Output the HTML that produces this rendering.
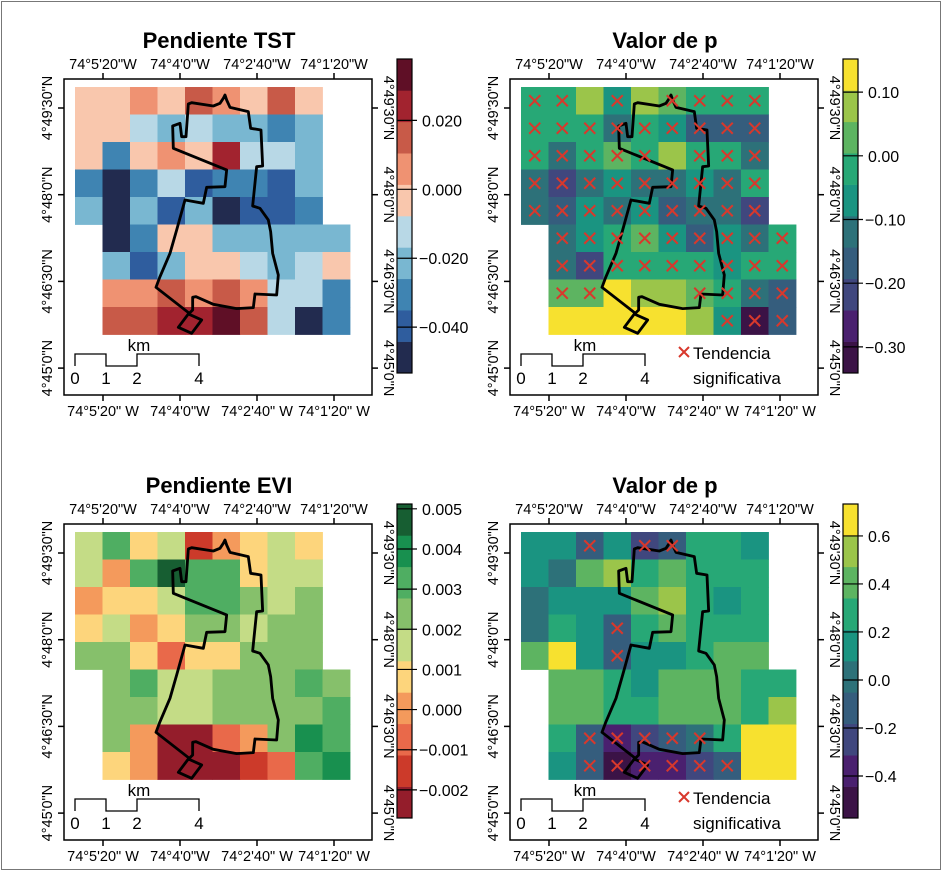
<!DOCTYPE html>
<html><head><meta charset="utf-8">
<style>
html,body{margin:0;padding:0;background:#fff;}
svg{display:block;font-family:"Liberation Sans",sans-serif;}
</style></head>
<body>
<svg id="fig" width="944" height="873" viewBox="0 0 944 873" xmlns="http://www.w3.org/2000/svg">
<rect x="1.5" y="1.5" width="939" height="868" fill="#fff" stroke="#777" stroke-width="1"/>
</svg>
<script>
const tstValues=[
[-0.003,-0.003,0.006,-0.003,0.015,0.006,-0.003,0.015,-0.003,null],
[-0.003,-0.003,-0.012,-0.022,-0.012,-0.022,-0.022,-0.030,-0.022,null],
[-0.003,-0.030,-0.003,0.006,-0.003,0.024,-0.012,-0.012,-0.022,null],
[-0.030,-0.048,-0.030,-0.012,-0.040,-0.030,-0.030,-0.040,-0.022,null],
[-0.022,-0.048,-0.022,-0.040,-0.022,-0.048,-0.040,-0.040,-0.030,null],
[null,-0.048,-0.030,-0.003,-0.003,-0.022,-0.022,-0.022,-0.022,-0.022],
[null,-0.022,-0.040,-0.022,-0.003,-0.003,-0.012,-0.022,-0.012,-0.003],
[null,0.006,0.006,0.015,0.006,0.015,0.006,-0.012,-0.012,-0.030],
[null,0.015,0.015,0.024,0.024,0.033,0.015,-0.012,-0.048,-0.030]];
const eviValues=[
[0.0017,0.0032,0.0009,0.0017,-0.0015,0.0001,0.0009,0.0017,0.0009,null],
[0.0017,0.0001,0.0032,0.0048,0.0032,0.0032,0.0009,0.0017,0.0017,null],
[0.0001,0.0009,0.0009,0.0017,0.0032,0.0032,0.0024,0.0017,0.0024,null],
[0.0009,0.0017,0.0001,0.0009,0.0024,0.0024,0.0017,0.0024,0.0024,null],
[0.0024,0.0024,0.0009,-0.0007,0.0009,0.0009,0.0024,0.0024,0.0024,null],
[null,0.0024,0.0032,0.0017,0.0017,0.0024,0.0024,0.0024,0.0032,0.0024],
[null,0.0024,0.0024,0.0017,0.0017,0.0024,0.0024,0.0024,0.0024,0.0032],
[null,0.0024,0.0001,-0.0023,-0.0023,-0.0007,0.0001,0.0024,0.0040,0.0032],
[null,0.0009,0.0001,-0.0023,-0.0023,-0.0023,-0.0015,-0.0007,0.0032,0.0040]];
const pTstValues=[
[-0.02,-0.02,0.08,-0.07,0.08,0.03,-0.02,-0.02,-0.02,null],
[-0.02,-0.02,-0.02,-0.12,-0.02,-0.07,-0.17,-0.17,-0.17,null],
[-0.02,-0.12,-0.02,0.03,-0.02,0.08,-0.02,-0.02,-0.12,null],
[-0.12,-0.22,-0.12,-0.07,-0.12,-0.12,-0.07,-0.12,-0.02,null],
[-0.12,-0.17,-0.07,-0.12,-0.07,-0.17,-0.12,-0.12,-0.22,null],
[null,-0.12,-0.07,-0.02,0.03,-0.07,-0.17,-0.07,-0.12,-0.02],
[null,-0.12,-0.22,-0.02,-0.02,-0.02,-0.02,-0.07,-0.02,-0.02],
[null,0.03,0.03,0.13,0.08,0.08,0.03,-0.02,-0.12,-0.17],
[null,0.13,0.13,0.13,0.13,0.13,0.08,-0.07,-0.32,-0.17]];
const pEviValues=[
[0.14,0.14,-0.12,0.14,-0.25,-0.12,0.27,0.27,0.14,null],
[0.14,0.01,0.40,0.53,0.27,0.40,0.27,0.27,0.27,null],
[0.01,0.14,0.14,0.14,0.40,0.53,0.27,0.14,0.27,null],
[0.01,0.27,0.14,-0.12,0.27,0.40,0.27,0.27,0.27,null],
[0.40,0.67,0.14,-0.12,0.14,0.14,0.27,0.40,0.40,null],
[null,0.40,0.40,0.27,0.14,0.40,0.40,0.40,0.27,0.27],
[null,0.40,0.40,0.27,0.27,0.40,0.40,0.40,0.27,0.53],
[null,0.27,-0.12,-0.38,-0.25,-0.12,0.01,0.27,0.67,0.67],
[null,0.14,-0.12,-0.51,-0.38,-0.38,-0.25,-0.12,0.67,0.67]];
const sigTst=[
[1,1,0,1,0,1,1,1,1,0],[1,1,1,1,1,1,1,1,1,0],[1,1,1,1,1,0,1,1,1,0],
[1,1,1,1,1,1,1,1,1,0],[1,1,1,1,1,1,1,1,1,0],[0,1,1,1,1,1,1,1,1,1],
[0,1,1,1,1,1,1,1,1,1],[0,1,1,0,0,0,1,1,1,1],[0,0,0,0,0,0,0,1,1,1]];
const sigEvi=[
[0,0,1,0,1,1,0,0,0,0],[0,0,0,0,0,0,0,0,0,0],[0,0,0,0,0,0,0,0,0,0],
[0,0,0,1,0,0,0,0,0,0],[0,0,0,1,0,0,0,0,0,0],[0,0,0,0,0,0,0,0,0,0],
[0,0,0,0,0,0,0,0,0,0],[0,0,1,1,1,1,1,0,0,0],[0,0,1,1,1,1,1,1,0,0]];
const tstTicks=[0.020,0.000,-0.020,-0.040];
const eviTicks=[0.005,0.004,0.003,0.002,0.001,0.000,-0.001,-0.002];
const pTstTicks=[0.10,0.00,-0.10,-0.20,-0.30];
const pEviTicks=[0.6,0.4,0.2,0.0,-0.2,-0.4];
const lonTop=['74°5\'20"W','74°4\'0"W','74°2\'40"W','74°1\'20"W'];
const lonBottom=['74°5\'20" W','74°4\'0"W','74°2\'40" W','74°1\'20" W'];
const latLabels=['4°49\'30"N','4°48\'0"N','4°46\'30"N','4°45\'0"N'];

const RDBU=['#222b4f','#2f5d9e','#3f84b2','#79b7d1','#b8d8e6','#f9c7ad','#ef9272','#c85a48','#a2232f','#5f0f26'];
const RDYLGN=['#941d2b','#cc3a2a','#e9694a','#f49a5c','#fdd57c','#c4dc86','#86c06b','#4fae62','#18904f','#175e32'];
const VIR=['#3b1346','#4a206f','#40477e','#355d7d','#2d7179','#1a9481','#27a876','#5db461','#9bc54a','#f7e12f'];

const NS='http://www.w3.org/2000/svg';
const svg=document.getElementById('fig');
function mk(tag,attrs,parent){const e=document.createElementNS(NS,tag);for(const k in attrs)e.setAttribute(k,attrs[k]);(parent||svg).appendChild(e);return e;}

const POLY='395,68 460,78 480,70 490,55 495,45 500,60 510,82 565,95 572,145 603,150 608,258 590,260 578,378 600,385 625,420 632,455 638,520 655,585 650,645 585,642 580,683 530,686 460,673 408,650 398,652 398,690 388,700 288,622 300,590 330,520 350,450 375,360 430,370 440,322 495,320 500,270 340,205 338,138 360,130 365,170 378,170 385,72';
const SQ='355,742 385,702 425,720 395,760';

function panel(opt){
  const {dx,dy,title,vals,colors,vmin,vmax,ticks,dec,sig,key}=opt;
  const g=mk('g',{});
  
  
  const t=mk('text',{x:dx+219,y:dy+48,'text-anchor':'middle','font-size':22,'font-weight':'bold',fill:'#000'},g);
  t.textContent=title;
  
  
  const x0=dx+75,y0=dy+87,cs=27.5;
  const band=v=>Math.max(0,Math.min(9,Math.floor((v-vmin)/(vmax-vmin)*10)));
  vals.forEach((row,r)=>row.forEach((v,c)=>{
    if(v===null)return;
    const rc=mk('rect',{x:x0+c*cs,y:y0+r*cs,width:cs+0.4,height:cs+0.4,fill:colors[band(v)]},g);
    
    
  }));
  const bg=mk('g',{transform:`translate(${dx+60},${dy+80}) scale(0.3333)`,fill:'none',stroke:'#000','stroke-width':8.5,'stroke-linejoin':'round'},g);
  const pl=mk('polygon',{points:POLY},bg);
  
  
  const sq=mk('polygon',{points:SQ},bg);
  
  
  if(sig){sig.forEach((row,r)=>row.forEach((s,c)=>{
    if(!s)return;
    const cx=x0+(c+0.5)*cs,cy=y0+(r+0.5)*cs,h=5.5;
    const p=mk('path',{d:`M${cx-h},${cy-h}L${cx+h},${cy+h}M${cx-h},${cy+h}L${cx+h},${cy-h}`,stroke:'#d8382c','stroke-width':2,fill:'none'},g);
    
    
  }));}
  const fx=dx+64,fy=dy+79,fw=308,fh=316;
  const fr=mk('rect',{x:fx,y:fy,width:fw,height:fh,fill:'none',stroke:'#000','stroke-width':1.5},g);
  
  
  lonTop.forEach((lab,i)=>{
    const x=dx+103+i*77;
    mk('line',{x1:x,y1:fy,x2:x,y2:fy-6,stroke:'#000','stroke-width':1.5},g);
    mk('line',{x1:x,y1:fy+fh,x2:x,y2:fy+fh+6,stroke:'#000','stroke-width':1.5},g);
    const a=mk('text',{x:x,y:dy+69,'text-anchor':'middle','font-size':14.5},g);a.textContent=lab;
    
    
    const b=mk('text',{x:x,y:dy+416,'text-anchor':'middle','font-size':14.5},g);b.textContent=lonBottom[i];
    
    
  });
  latLabels.forEach((lab,i)=>{
    const y=dy+108+i*86.7;
    mk('line',{x1:fx,y1:y,x2:fx-6,y2:y,stroke:'#000','stroke-width':1.5},g);
    mk('line',{x1:fx+fw,y1:y,x2:fx+fw+6,y2:y,stroke:'#000','stroke-width':1.5},g);
    const a=mk('text',{x:0,y:0,'text-anchor':'middle','font-size':14.5,transform:`translate(${dx+52},${y}) rotate(-90)`},g);a.textContent=lab;
    
    
    const b=mk('text',{x:0,y:0,'text-anchor':'middle','font-size':14.5,transform:`translate(${dx+384},${y}) rotate(90)`},g);b.textContent=lab;
    
    
  });
  const sb=mk('path',{d:`M${dx+75},${dy+366}V${dy+354}H${dx+106}V${dy+366}H${dx+137}V${dy+354}H${dx+199}V${dy+366}`,stroke:'#000','stroke-width':1.3,fill:'none'},g);
  
  
  const km=mk('text',{x:dx+139,y:dy+351,'text-anchor':'middle','font-size':17},g);km.textContent='km';
  
  
  [['0',75],['1',106],['2',137],['4',199]].forEach(([s,x])=>{
    const tt=mk('text',{x:dx+x,y:dy+384,'text-anchor':'middle','font-size':17},g);tt.textContent=s;
    
    
  });
  if(sig){
    const lx=dx+684-446;
    const m=mk('path',{d:`M${lx-5},${dy+347}L${lx+5},${dy+357}M${lx-5},${dy+357}L${lx+5},${dy+347}`,stroke:'#d8382c','stroke-width':2,fill:'none'},g);
    
    
    const l1=mk('text',{x:lx+9,y:dy+359,'font-size':17},g);l1.textContent='Tendencia';
    
    
    const l2=mk('text',{x:lx+9,y:dy+384,'font-size':17},g);l2.textContent='significativa';
    
    
  }
  const bx=dx+397,by=dy+59,bw=15,bh=314;
  for(let i=0;i<10;i++){
    const rr=mk('rect',{x:bx,y:by+bh-(i+1)*bh/10,width:bw,height:bh/10+0.3,fill:colors[i]},g);
    
    
  }
  mk('rect',{x:bx,y:by,width:bw,height:bh,fill:'none',stroke:'#000','stroke-width':1.2},g);
  const ys=v=>by+(vmax-v)/(vmax-vmin)*bh;
  ticks.forEach(v=>{
    const y=ys(v);
    mk('line',{x1:bx,y1:y,x2:bx+bw+5,y2:y,stroke:'#000','stroke-width':1.2},g);
    const s=(v<0?'\u2212':'')+Math.abs(v).toFixed(dec);
    const tt=mk('text',{x:bx+bw+(v<0?7:10),y:y+6,'font-size':16},g);tt.textContent=s;
    
    
  });
}
panel({dx:0,dy:0,title:'Pendiente TST',vals:tstValues,colors:RDBU,vmin:-0.0533,vmax:0.0378,ticks:tstTicks,dec:3,sig:null,key:'tst-slope'});
panel({dx:446,dy:0,title:'Valor de p',vals:pTstValues,colors:VIR,vmin:-0.341,vmax:0.152,ticks:pTstTicks,dec:2,sig:sigTst,key:'tst-pvalue'});
panel({dx:0,dy:445,title:'Pendiente EVI',vals:eviValues,colors:RDYLGN,vmin:-0.0027,vmax:0.00512,ticks:eviTicks,dec:3,sig:null,key:'evi-slope'});
panel({dx:446,dy:445,title:'Valor de p',vals:pEviValues,colors:VIR,vmin:-0.575,vmax:0.733,ticks:pEviTicks,dec:1,sig:sigEvi,key:'evi-pvalue'});
</script>
</body></html>
